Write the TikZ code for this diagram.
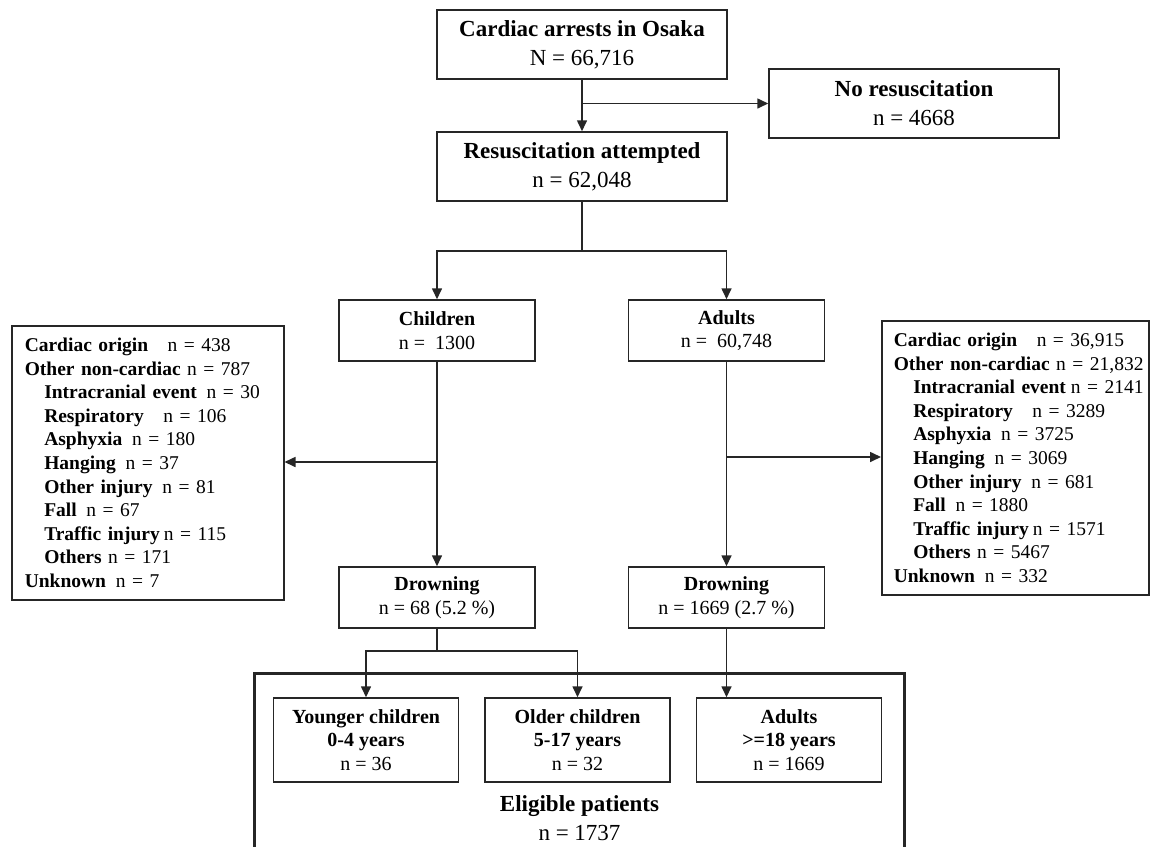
\documentclass[tikz,border=0pt]{standalone}
\usepackage{fontspec}
\setmainfont{Liberation Serif}
\usetikzlibrary{arrows.meta}
\newcommand{\bigfnt}{\fontsize{23}{29}\selectfont}
\newcommand{\midfnt}{\fontsize{20}{23.5}\selectfont}
\newcommand{\lstfnt}{\fontsize{19.5}{23.6}\selectfont}
\newcommand{\ind}{\hspace*{1em}}
\newcommand{\row}[1]{\mbox{#1}}
\definecolor{ink}{HTML}{262626}
\tikzset{
  box/.style={draw=ink, line width=1.5pt, align=center, inner sep=0pt},
  topbox/.style={box, font=\bigfnt, minimum width=290pt, minimum height=69pt},
  grpbox/.style={box, font=\midfnt, minimum width=196pt, minimum height=61pt},
  agebox/.style={box, font=\midfnt, minimum width=185pt, minimum height=84pt},
  listbox/.style={draw=ink, line width=1.5pt, align=left, font=\lstfnt, anchor=north west},
  arr/.style={draw=ink, line width=1.6pt, -{Triangle[length=11pt,width=10pt]}},
  ln/.style={draw=ink, line width=1.6pt}
}
\begin{document}
\begin{tikzpicture}[x=1pt, y=-1pt]
  \useasboundingbox (0,0) rectangle (1158,846);
  % top of the chart
  \node[topbox] (osaka) at (582,44.5) {\textbf{Cardiac arrests in Osaka}\\N = 66,716};
  \node[topbox] (nores) at (914,103.5) {\textbf{No resuscitation}\\n = 4668};
  \node[topbox] (resus) at (582,166.5) {\textbf{Resuscitation attempted}\\n = 62,048};
  \draw[arr] (osaka) -- (resus);
  \coordinate (split0) at (582,103.5);
  \draw[arr] (split0) -- (nores);
  % children and adults
  \node[grpbox] (child) at (437,330.5) {\textbf{Children}\\n = \ 1300};
  \node[grpbox] (adult) at (726.5,330.5) {\textbf{Adults}\\n = \ 60,748};
  \coordinate (split1) at (582,251);
  \draw[ln] (resus) -- (split1);
  \draw[arr] (split1) -| (child);
  \draw[arr] (split1) -| (adult);
  % causes
  \node[listbox, inner xsep=13pt, text width=246pt, minimum height=274pt] (lcause) at (11,325) {%
    \row{\textbf{Cardiac origin}\quad n = 438}\\
    \row{\textbf{Other non-cardiac} n = 787}\\
    \row{\ind\textbf{Intracranial event}\enspace n = 30}\\
    \row{\ind\textbf{Respiratory}\quad n = 106}\\
    \row{\ind\textbf{Asphyxia}\enspace n = 180}\\
    \row{\ind\textbf{Hanging}\enspace n = 37}\\
    \row{\ind\textbf{Other injury}\enspace n = 81}\\
    \row{\ind\textbf{Fall}\enspace n = 67}\\
    \row{\ind\textbf{Traffic injury}\hspace{4pt}n = 115}\\
    \row{\ind\textbf{Others} n = 171}\\
    \row{\textbf{Unknown}\enspace n = 7}};
  \node[listbox, inner xsep=12pt, text width=243pt, minimum height=274pt] (rcause) at (881,320) {%
    \row{\textbf{Cardiac origin}\quad n = 36,915}\\
    \row{\textbf{Other non-cardiac} n = 21,832}\\
    \row{\ind\textbf{Intracranial event}\hspace{5pt}n = 2141}\\
    \row{\ind\textbf{Respiratory}\quad n = 3289}\\
    \row{\ind\textbf{Asphyxia}\enspace n = 3725}\\
    \row{\ind\textbf{Hanging}\enspace n = 3069}\\
    \row{\ind\textbf{Other injury}\enspace n = 681}\\
    \row{\ind\textbf{Fall}\enspace n = 1880}\\
    \row{\ind\textbf{Traffic injury}\hspace{4pt}n = 1571}\\
    \row{\ind\textbf{Others} n = 5467}\\
    \row{\textbf{Unknown}\enspace n = 332}};
  % drowning
  \node[grpbox] (cdrown) at (437,597.5) {\textbf{Drowning}\\n = 68 (5.2 \%)};
  \node[grpbox] (adrown) at (726.5,597.5) {\textbf{Drowning}\\n = 1669 (2.7 \%)};
  \draw[arr] (child) -- (cdrown);
  \draw[arr] (adult) -- (adrown);
  \coordinate (lsplit) at (437,462);
  \coordinate (rsplit) at (726.5,457);
  \draw[arr] (lsplit) -- (lcause.east |- lsplit);
  \draw[arr] (rsplit) -- (rcause.west |- rsplit);
  % eligible patients
  \draw[ink, line width=3pt] (254,870) -- (254,673) -- (904,673) -- (904,870);
  \node[agebox] (young) at (366,740) {\textbf{Younger children}\\\textbf{0-4 years}\\n = 36};
  \node[agebox] (older) at (577.5,740) {\textbf{Older children}\\\textbf{5-17 years}\\n = 32};
  \node[agebox] (grown) at (789,740) {\textbf{Adults}\\\textbf{>=18 years}\\n = 1669};
  \node[align=center, font=\bigfnt, inner sep=0pt] (elig) at (579.5,818) {\textbf{Eligible patients}\\n = 1737};
  \coordinate (split2) at (437,651);
  \draw[ln] (cdrown) -- (split2);
  \draw[arr] (split2) -| (young);
  \draw[arr] (split2) -| (older);
  \draw[arr] (adrown) -- (adrown.south |- grown.north);
\end{tikzpicture}
\end{document}
